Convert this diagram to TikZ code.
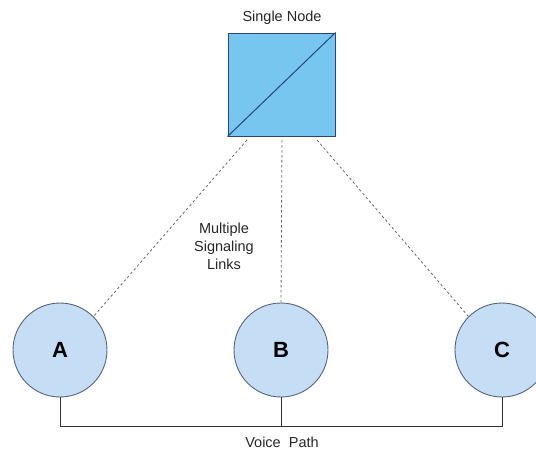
\documentclass[tikz,border=0pt]{standalone}
\usepackage{fontspec}
\setmainfont{Liberation Sans}
\begin{document}
\begin{tikzpicture}[x=1pt,y=-1pt,
  sqbox/.style={draw=sqborder,fill=sqfill,line width=1pt,minimum width=107pt,minimum height=103pt,inner sep=0pt},
  circ/.style={circle,draw=circborder,fill=circfill,line width=0.9pt,minimum size=94pt,inner sep=0pt,font=\fontsize{22}{24}\selectfont\bfseries},
  lbl/.style={font=\fontsize{14.5}{18}\selectfont,text=black!85,align=center},
  sig/.style={dashed,dash pattern=on 2.5pt off 2.5pt,draw=black!60,line width=0.8pt},
  voice/.style={draw=black!80,line width=0.9pt}]
\definecolor{sqfill}{RGB}{118,198,240}
\definecolor{sqborder}{RGB}{40,70,120}
\definecolor{circfill}{RGB}{198,221,246}
\definecolor{circborder}{RGB}{85,100,125}
\useasboundingbox (0,0) rectangle (536,450);
\node[sqbox] (sq) at (281.5,84.5) {};
\draw[draw=sqborder,line width=1pt] (sq.south west) -- (sq.north east);
\node[lbl] (title) at (282,18) {Single Node};
\node[circ] (A) at (60,350) {A};
\node[circ] (B) at (281,350) {B};
\node[circ] (C) at (502,350) {C};
\coordinate (s1) at (247,140);
\coordinate (s2) at (282,140);
\coordinate (s3) at (317,140);
\draw[sig] (s1) -- (A.north east);
\draw[sig] (s2) -- (B.north);
\draw[sig] (s3) -- (C.north west);
\node[lbl] (mul) at (224,246) {Multiple\\Signaling\\Links};
\coordinate (bus) at (0,426);
\draw[voice] (A.south) |- (C.south |- bus) -- (C.south);
\draw[voice] (B.south) -- (B.south |- bus);
\node[lbl] (vp) at (282,442) {Voice\ \ Path};
\end{tikzpicture}
\end{document}
